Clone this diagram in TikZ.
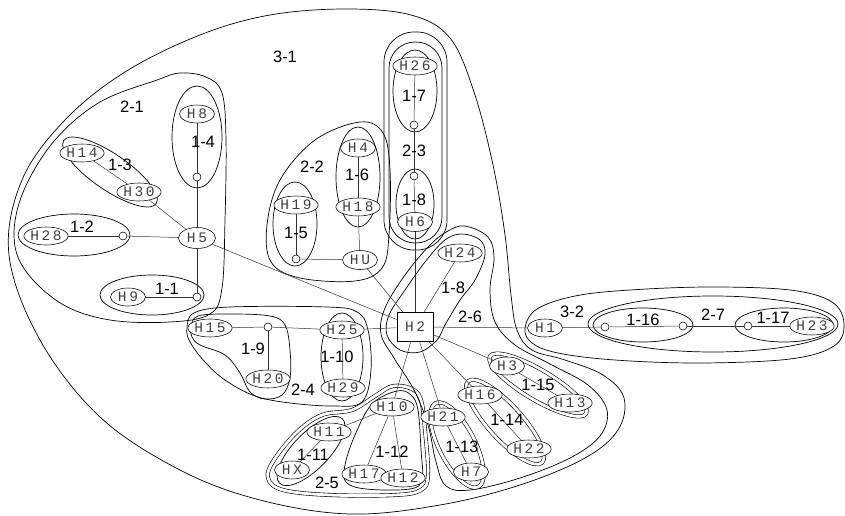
\documentclass[tikz,border=0pt]{standalone}
\usepackage{fontspec}
\setmainfont{Liberation Sans}
\newfontfamily\hostfont[LetterSpace=18]{Liberation Mono}
\usetikzlibrary{shapes.geometric}

\begin{document}
\begin{tikzpicture}[x=1pt,y=-1pt,
  hn/.style={ellipse, draw, fill=white, line width=0.55pt, inner sep=0pt,
    minimum width=35pt, minimum height=18pt,
    font=\fontsize{14.5}{15}\hostfont, text=black!75},
  jn/.style={circle, draw, fill=white, line width=0.55pt, inner sep=0pt, minimum size=8pt},
  edge/.style={line width=0.5pt, black!80},
  grp/.style={line width=0.7pt},
  dgrp/.style={line width=0.6pt, double=white, double distance=2.8pt},
  lbl/.style={font=\fontsize{16.5}{17}\selectfont, inner sep=0pt}
]
\useasboundingbox (0,0) rectangle (845,516);

% ---------- level-3 clusters ----------
\draw[grp] plot[smooth cycle, tension=0.6] coordinates {
  (346,9) (411,15) (450,38) (474,92) (493,165) (505,235) (511,295) (517,330)
  (532,350) (565,360) (603,375) (624,398) (618,430) (585,458) (520,485)
  (440,505) (350,514) (260,500) (180,470) (100,417) (40,340) (9,255)
  (22,180) (65,120) (125,72) (200,35) (270,15)};
\draw[grp] plot[smooth cycle, tension=0.6] coordinates {
  (525,328) (537,309) (575,296) (630,290) (710,287) (790,290) (832,302)
  (844,324) (834,346) (790,359) (700,363) (615,360) (558,353) (532,343)};

% ---------- level-2 clusters ----------
% 2-1
\draw[grp] plot[smooth cycle, tension=0.6] coordinates {
  (157,80) (180,73) (206,77) (222,93) (226,140) (225,220) (222,288) (210,314)
  (170,322) (110,320) (62,304) (25,270) (14,235) (24,190) (55,140) (100,102)};
% 2-2
\draw[grp] plot[smooth cycle, tension=0.6] coordinates {
  (360,122) (383,133) (390,170) (389,235) (382,268) (355,281) (300,278)
  (271,262) (267,225) (280,180) (315,140)};
% 2-3
\draw[grp, rounded corners=26pt] (389,42) rectangle (442,243);
\draw[grp, rounded corners=30pt] (384,32) rectangle (447,250);
% 2-4
\draw[grp] plot[smooth cycle, tension=0.6] coordinates {
  (187,328) (194,313) (230,307) (327,307) (357,312) (368,330) (371,370)
  (362,402) (333,406) (290,403) (255,396) (225,380) (205,362) (190,342)};
% 2-5
\draw[dgrp] plot[smooth cycle, tension=0.6] coordinates {
  (393,386) (412,389) (421,400) (425,430) (428,475) (421,490) (395,495)
  (330,495) (283,490) (268,478) (274,460) (297,432) (322,415) (352,410) (375,396)};
% 2-6
\draw[grp] plot[smooth cycle, tension=0.6] coordinates {
  (465,226) (488,237) (494,258) (490,290) (495,322) (515,345) (550,364)
  (588,385) (607,410) (600,436) (570,458) (520,478) (470,490) (446,486)
  (436,462) (428,425) (414,390) (394,358) (381,334) (385,308) (405,275)
  (430,245) (448,231)};
% 2-7
\draw[grp] (713,324) ellipse [x radius=125pt, y radius=28pt];

% ---------- level-1 clusters ----------
\draw[grp] (197,137) ellipse [x radius=25pt, y radius=51pt];          % 1-4
\draw[grp, rotate around={-34.4:(110,172)}] (110,172) ellipse [x radius=56pt, y radius=18pt]; % 1-3
\draw[grp] (74,235) ellipse [x radius=56pt, y radius=21pt];           % 1-2
\draw[grp] (152,295) ellipse [x radius=52pt, y radius=20pt];          % 1-1
\draw[grp] (295,224) ellipse [x radius=22pt, y radius=42pt];          % 1-5
\draw[grp] (358,177) ellipse [x radius=22pt, y radius=50pt];          % 1-6
\draw[grp] (415,91) ellipse [x radius=22pt, y radius=41pt];           % 1-7
\draw[grp] (415,204) ellipse [x radius=19pt, y radius=35pt];          % 1-8
\draw[grp] plot[smooth cycle, tension=0.6] coordinates {              % 1-8 (H24)
  (462,234) (480,240) (485,255) (475,280) (460,300) (445,325) (437,340)
  (420,352) (400,350) (387,335) (389,315) (405,290) (425,262) (445,240)};
\draw[grp] plot[smooth cycle, tension=0.6] coordinates {              % 1-9
  (191,327) (198,316) (230,314) (270,316) (285,325) (290,350) (290,378)
  (282,395) (265,399) (250,392) (240,373) (225,355) (200,345) (192,337)};
\draw[grp] (342,357) ellipse [x radius=21pt, y radius=44pt];          % 1-10
\draw[grp, rotate around={45.8:(311,451)}] (311,451) ellipse [x radius=45pt, y radius=18pt]; % 1-11
\draw[grp] plot[smooth cycle, tension=0.6] coordinates {              % 1-12
  (397,391) (411,395) (418,410) (421,450) (422,479) (410,489) (366,489)
  (346,482) (345,465) (355,435) (372,404)};
\draw[dgrp, rotate around={-63:(457,445)}] (457,445) ellipse [x radius=47pt, y radius=18pt]; % 1-13
\draw[dgrp, rotate around={-47.8:(505,422)}] (505,422) ellipse [x radius=55pt, y radius=17pt]; % 1-14
\draw[dgrp, rotate around={-30.8:(538,385)}] (538,385) ellipse [x radius=56pt, y radius=15pt]; % 1-15
\draw[grp] (643,325) ellipse [x radius=50pt, y radius=17pt];          % 1-16
\draw[grp] (784,325) ellipse [x radius=49pt, y radius=17pt];          % 1-17

% ---------- hosts and junctions ----------
\node[hn] (H8)  at (197,114) {H8};
\node[hn] (H14) at (82,153)  {H14};
\node[hn] (H30) at (139,192) {H30};
\node[hn] (H28) at (46,236)  {H28};
\node[hn, minimum width=37pt, minimum height=21pt] (H5) at (197,238) {H5};
\node[hn] (H9)  at (128,297) {H9};
\node[jn] (c2) at (123,236) {};
\node[jn] (c4) at (197,177) {};
\node[jn] (c1) at (197,297) {};

\node[hn] (H4)  at (358,148) {H4};
\node[hn] (H18) at (358,207) {H18};
\node[hn] (H19) at (296,205) {H19};
\node[hn, minimum height=19pt] (HU) at (360,260) {HU};
\node[jn] (c5) at (296,259) {};

\node[hn] (H26) at (415,66)  {H26};
\node[jn] (c7) at (414,125) {};
\node[jn] (c8) at (414,176) {};
\node[hn, minimum height=19pt] (H6) at (415,222) {H6};

\node[hn] (H24) at (460,253) {H24};
\node[draw, fill=white, line width=0.8pt, minimum width=36pt, minimum height=29pt,
  inner sep=0pt, font=\fontsize{14.5}{15}\hostfont, text=black!75] (H2) at (415,327) {H2};

\node[hn] (H15) at (210,328) {H15};
\node[jn] (c9) at (268,327) {};
\node[hn] (H20) at (268,379) {H20};
\node[hn] (H25) at (342,330) {H25};
\node[hn] (H29) at (343,388) {H29};

\node[hn] (H10) at (392,407) {H10};
\node[hn] (H11) at (329,432) {H11};
\node[hn] (HX)  at (292,470) {HX};
\node[hn] (H17) at (364,474) {H17};
\node[hn] (H12) at (403,478) {H12};

\node[hn] (H21) at (443,417) {H21};
\node[hn] (H7)  at (471,472) {H7};
\node[hn] (H16) at (480,395) {H16};
\node[hn] (H22) at (529,449) {H22};
\node[hn] (H3)  at (507,366) {H3};
\node[hn] (H13) at (570,403) {H13};

\node[hn] (H1)  at (545,328) {H1};
\node[jn] (c16a) at (605,327) {};
\node[jn] (c16b) at (683,326) {};
\node[jn] (c17) at (748,326) {};
\node[hn] (H23) at (812,326) {H23};

% ---------- links ----------
\foreach \a/\b in {H14/H30, H30/H5, H28/c2, c2/H5, H8/c4, c4/H5, H5/c1, H9/c1, H5/H2,
  H19/c5, c5/HU, H4/H18, H18/HU, HU/H2,
  H26/c7, c7/c8, c8/H6, H6/H2, H24/H2,
  H15/c9, c9/H20, c9/H25, H25/H29, H25/H2,
  H2/H10, H10/H11, H11/HX, H10/H17, H10/H12,
  H2/H21, H21/H7, H2/H16, H16/H22, H2/H3, H3/H13,
  H2/H1, H1/c16a, c16a/c16b, c16b/c17, c17/H23}
  \draw[edge] (\a) -- (\b);

% ---------- cluster labels ----------
\node[lbl] (l31) at (285,57)  {3-1};
\node[lbl] (l21) at (132,107) {2-1};
\node[lbl] (l14) at (203,142) {1-4};
\node[lbl] (l13) at (120,165) {1-3};
\node[lbl] (l12) at (82,227)  {1-2};
\node[lbl] (l11) at (167,289) {1-1};
\node[lbl] (l22) at (312,167) {2-2};
\node[lbl] (l16) at (357,175) {1-6};
\node[lbl] (l15) at (296,233) {1-5};
\node[lbl] (l17) at (414,96)  {1-7};
\node[lbl] (l23) at (414,151) {2-3};
\node[lbl] (l18a) at (414,200) {1-8};
\node[lbl] (l18b) at (453,288) {1-8};
\node[lbl] (l26) at (470,317) {2-6};
\node[lbl] (l32) at (572,312) {3-2};
\node[lbl] (l116) at (643,320) {1-16};
\node[lbl] (l27) at (713,315) {2-7};
\node[lbl] (l117) at (773,318) {1-17};
\node[lbl] (l19) at (253,349) {1-9};
\node[lbl] (l110) at (337,357) {1-10};
\node[lbl] (l24) at (303,390) {2-4};
\node[lbl] (l111) at (313,455) {1-11};
\node[lbl] (l112) at (392,452) {1-12};
\node[lbl] (l25) at (327,483) {2-5};
\node[lbl] (l113) at (462,447) {1-13};
\node[lbl] (l114) at (507,420) {1-14};
\node[lbl] (l115) at (538,385) {1-15};
\end{tikzpicture}
\end{document}
